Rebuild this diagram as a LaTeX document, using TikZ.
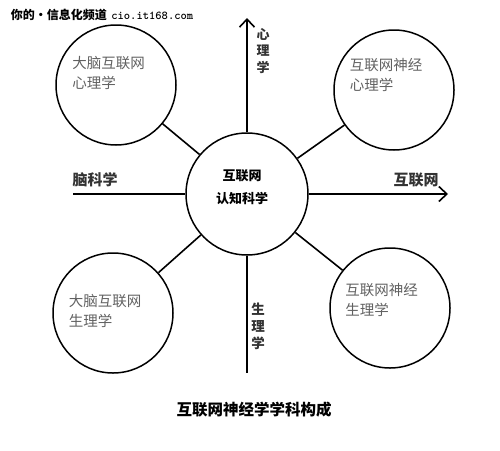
\documentclass[tikz,border=0pt]{standalone}
\usepackage{fontspec}
\usepackage{tikz}
\usetikzlibrary{arrows.meta}
\newfontfamily\cjk{Noto Sans CJK SC}

\begin{document}
\begin{tikzpicture}[>={Straight Barb[length=8pt,width=15pt]},x=1pt,y=-1pt,line width=1.6pt,
		bubble/.style={circle,draw,line width=1.5pt,minimum size=120pt,inner sep=0pt},
		graytext/.style={font=\cjk\fontsize{14.5}{19.5}\selectfont,text=black!62,align=left,inner sep=0pt},
		axistext/.style={font=\cjk\bfseries\fontsize{14}{17}\selectfont,text=black!80,inner sep=0pt,align=center},
		boldtext/.style={font=\cjk\bfseries\fontsize{13}{23}\selectfont,inner sep=0pt,align=center}]
		\useasboundingbox (0,0) rectangle (500,450);
		
		\node[bubble,minimum size=122pt] (c) at (247,194) {};
		\node[boldtext] (ctext) at (242,187) {互联网\\认知科学};
		
		\node[bubble] (tl) at (116,85) {};
		\node[bubble] (tr) at (394,90) {};
		\node[bubble] (bl) at (113,313) {};
		\node[bubble] (br) at (390,308) {};
		
		\node[graytext] (tltext) at (108.5,73) {大脑互联网\\心理学};
		\node[graytext] (trtext) at (386,75) {互联网神经\\心理学};
		\node[graytext] (bltext) at (105,311) {大脑互联网\\生理学};
		\node[graytext] (brtext) at (381.5,300) {互联网神经\\生理学};
		
		\draw (c) -- (tl);
		\draw (c) -- (tr);
		\draw (c) -- (bl);
		\draw (c) -- (br);
		
		\coordinate (top) at (247,18);
		\coordinate (bottom) at (247,373);
		\coordinate (left) at (73,194);
		\coordinate (right) at (448,194);
		\draw[->] (c.north) -- (top);
		\draw (c.south) -- (bottom);
		\draw (left) -- (c.west);
		\draw[->] (c.east) -- (right);
		
		\node[axistext,font=\cjk\bfseries\fontsize{13}{16.5}\selectfont] (psy) at (263,51) {心\\理\\学};
		\node[axistext,font=\cjk\bfseries\fontsize{13.5}{17}\selectfont] (phy) at (258,326) {生\\理\\学};
		\node[axistext,font=\cjk\bfseries\fontsize{15}{17}\selectfont] (brain) at (95,180) {脑科学};
		\node[axistext,font=\cjk\bfseries\fontsize{15}{17}\selectfont] (net) at (416,180) {互联网};
		
		\node[boldtext,font=\cjk\bfseries\fontsize{15.5}{18}\selectfont] (title) at (254,410) {互联网神经学学科构成};
		\node[anchor=west,inner sep=0pt,font=\bfseries\fontsize{12}{14}\selectfont] (mark) at (10,15) {{\cjk 你的·信息化频道} \ttfamily cio.it168.com};
	\end{tikzpicture}
\end{document}
